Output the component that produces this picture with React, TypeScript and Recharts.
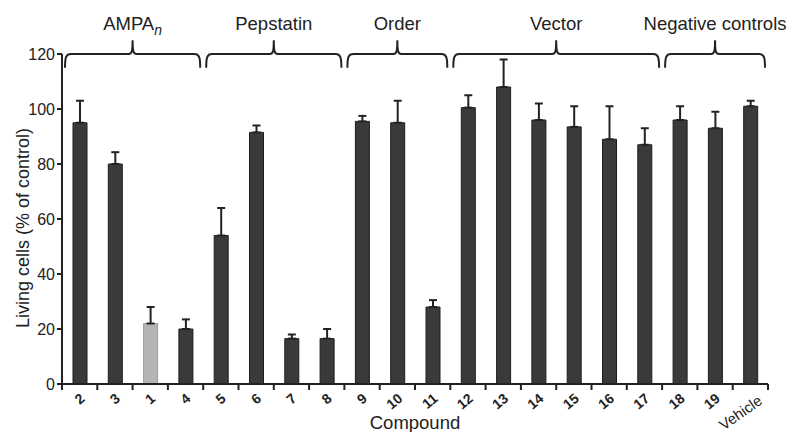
import React from 'react';
import {
  BarChart,
  Bar,
  XAxis,
  YAxis,
  Cell,
  ErrorBar,
  ReferenceArea,
} from 'recharts';

// Compounds in plotted order
const categories = ['2', '3', '1', '4', '5', '6', '7', '8', '9', '10', '11', '12', '13', '14', '15', '16', '17', '18', '19', 'Vehicle'];
// Living cells (% of control)
const means = [95, 80, 22, 20, 54, 91.5, 16.5, 16.5, 95.5, 95, 28, 100.5, 108, 96, 93.5, 89, 87, 96, 93, 101];
// upper error bar lengths
const errors = [8, 4.3, 6, 3.5, 10, 2.5, 1.5, 3.5, 2, 8, 2.5, 4.5, 10, 6, 7.5, 12, 6, 5, 6, 2];
const highlighted = '1';

// Bracketed groups above the bars
const groupNames = ['AMPA', 'Pepstatin', 'Order', 'Vector', 'Negative controls'];
const groupSubscripts = ['n', '', '', '', ''];
const groupFirst = ['2', '5', '9', '12', '18'];
const groupLast = ['4', '8', '11', '17', 'Vehicle'];

const yTicks = [0, 20, 40, 60, 80, 100, 120];

const WIDTH = 795;
const HEIGHT = 432;
const MARGIN = { top: 54, right: 27, left: 22, bottom: 0 };
const Y_AXIS_W = 40;
const PLOT_W = WIDTH - MARGIN.left - MARGIN.right - Y_AXIS_W;
const BAND = PLOT_W / categories.length;
const INK = '#222222';
const FONT = '"Liberation Sans", Arial, Helvetica, sans-serif';

const data = categories.map((name, i) => ({
  name,
  value: means[i],
  err: [0, errors[i]],
}));

const XTick = (props: any) => {
  const { x, y, payload, index } = props;
  const half = BAND / 2;
  const isWord = payload.value.length > 2;
  const tx = x + (isWord ? 13 : 6);
  const ty = y + (isWord ? 19 : 16);
  return (
    <g>
      <line x1={x - half} y1={y} x2={x - half} y2={y + 6} stroke={INK} strokeWidth={2} />
      {index === categories.length - 1 && (
        <line x1={x + half} y1={y} x2={x + half} y2={y + 6} stroke={INK} strokeWidth={2} />
      )}
      <text
        x={tx}
        y={ty}
        transform={`rotate(${isWord ? -35 : -40} ${tx} ${ty})`}
        textAnchor="end"
        fontWeight={isWord ? 'normal' : 'bold'}
        fontSize={isWord ? 15 : 14}
        fill={INK}
        fontFamily={FONT}
      >
        {payload.value}
      </text>
    </g>
  );
};

const makeBrace = (label: string, sub: string) => (props: any) => {
  const { x, y, width, height } = props;
  const l = x + 3;
  const r = x + width - 3;
  const mid = (l + r) / 2;
  const top = y;
  const h = y + height / 2;
  const bot = y + height;
  const d =
    `M${l},${bot} C${l},${h + 3} ${l + 1},${h} ${l + 6},${h} ` +
    `L${mid - 4},${h} C${mid - 1},${h} ${mid},${h - 2} ${mid},${top} ` +
    `C${mid},${h - 2} ${mid + 1},${h} ${mid + 4},${h} ` +
    `L${r - 6},${h} C${r - 1},${h} ${r},${h + 3} ${r},${bot}`;
  return (
    <g>
      <path d={d} fill="none" stroke={INK} strokeWidth={2} />
      <text x={mid} y={top - 10} textAnchor="middle" fontSize={18.5} fill={INK} fontFamily={FONT}>
        {label}
        {sub && (
          <tspan fontStyle="italic" fontSize={14} dy={5}>
            {sub}
          </tspan>
        )}
      </text>
    </g>
  );
};

const YLabel = (props: any) => {
  const vb = props.viewBox || { x: MARGIN.left, y: MARGIN.top, width: Y_AXIS_W, height: 330 };
  const cx = vb.x + 1;
  const cy = vb.y + vb.height / 2 + 9;
  return (
    <text
      x={cx}
      y={cy}
      transform={`rotate(-90 ${cx} ${cy})`}
      textAnchor="middle"
      dominantBaseline="central"
      fontSize={18}
      fill={INK}
      fontFamily={FONT}
    >
      Living cells (% of control)
    </text>
  );
};

export default function App() {
  return (
    <div style={{ position: 'absolute', left: 0, top: 0, background: '#fff' }}>
      <BarChart width={WIDTH} height={HEIGHT} data={data} margin={MARGIN} barSize={14}>
        <XAxis
          dataKey="name"
          height={48}
          interval={0}
          tickSize={0}
          tickMargin={0}
          tickLine={false}
          tick={<XTick />}
          axisLine={{ stroke: INK, strokeWidth: 2 }}
          label={{
            value: 'Compound',
            position: 'insideBottom',
            offset: 3,
            fontSize: 18.5,
            fill: INK,
            fontFamily: FONT,
          }}
        />
        <YAxis
          width={Y_AXIS_W}
          domain={[0, 120]}
          ticks={yTicks}
          interval={0}
          tickSize={5}
          tickMargin={2}
          axisLine={{ stroke: INK, strokeWidth: 2 }}
          tickLine={{ stroke: INK, strokeWidth: 2 }}
          tick={{ fontSize: 16, fill: INK, fontFamily: FONT }}
          label={{ content: <YLabel /> }}
        />
        <Bar dataKey="value" fill="#3a3a3a" stroke="#1c1c1c" strokeWidth={1} isAnimationActive={false}>
          {data.map((d) => (
            <Cell
              key={d.name}
              fill={d.name === highlighted ? '#b5b5b5' : '#3a3a3a'}
              stroke={d.name === highlighted ? '#9a9a9a' : '#1c1c1c'}
            />
          ))}
          <ErrorBar dataKey="err" direction="y" width={4} strokeWidth={2} stroke={INK} />
        </Bar>
        {groupNames.map((g, i) => (
          <ReferenceArea
            key={g}
            x1={groupFirst[i]}
            x2={groupLast[i]}
            y1={115}
            y2={125}
            ifOverflow="visible"
            shape={makeBrace(g, groupSubscripts[i])}
          />
        ))}
      </BarChart>
    </div>
  );
}
